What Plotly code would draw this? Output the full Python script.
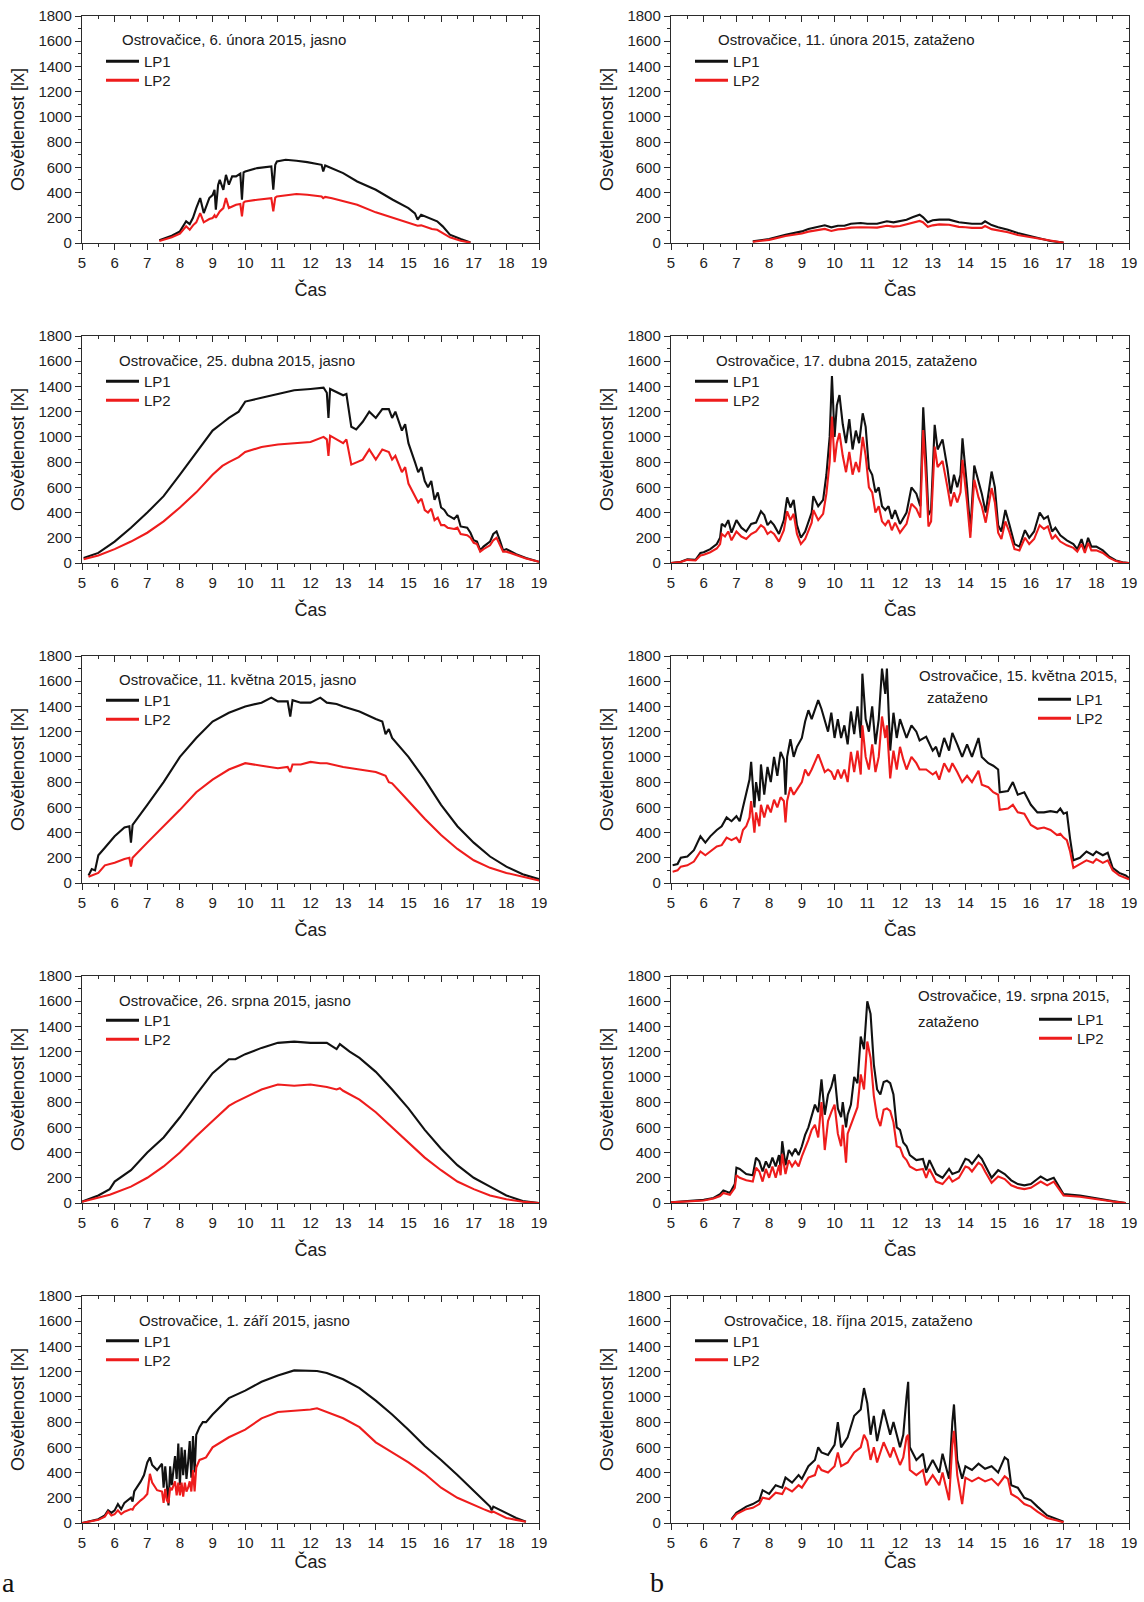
import plotly.graph_objects as go

# ---------------- DATA ----------------
# Panel a1: 6. února 2015, jasno
t_a1 = [7.37, 7.75, 8.00, 8.19, 8.30, 8.40, 8.50, 8.62, 8.73, 8.90,
        9.00, 9.06, 9.10, 9.17, 9.22, 9.33, 9.41, 9.50, 9.60, 9.72,
        9.85, 9.90, 9.95, 10.00, 10.37, 10.80, 10.86, 10.92, 10.97, 11.24,
        11.57, 11.90, 12.34, 12.39, 12.45, 12.66, 13.00, 13.43, 14.00, 14.52,
        15.00, 15.20, 15.28, 15.39, 15.72, 15.88, 16.05, 16.27, 16.60, 16.90]
lp1_a1 = [21, 58, 92, 172, 150, 200, 277, 356, 237, 356,
          380, 422, 264, 460, 501, 422, 540, 462, 528, 528,
          550, 343, 560, 567, 594, 607, 422, 620, 646, 660,
          652, 641, 620, 567, 615, 594, 554, 488, 422, 343,
          277, 235, 185, 224, 185, 172, 132, 66, 32, 5]
lp2_a1 = [15, 45, 74, 132, 105, 140, 164, 237, 164, 190,
          198, 220, 200, 237, 250, 277, 356, 277, 290, 303,
          310, 211, 320, 330, 343, 356, 250, 360, 369, 378,
          388, 383, 369, 355, 365, 355, 330, 303, 243, 198,
          158, 145, 137, 140, 111, 105, 79, 45, 18, 3]

# Panel b1: 11. února 2015, zataženo
t_b1 = [7.5, 8.0, 8.5, 9.0, 9.2, 9.5, 9.7, 9.9, 10.1, 10.3,
        10.5, 10.8, 11.0, 11.3, 11.6, 11.8, 12.0, 12.2, 12.4, 12.6,
        12.7, 12.85, 13.0, 13.2, 13.5, 13.8, 14.0, 14.2, 14.5, 14.6,
        14.8, 15.0, 15.3, 15.6, 16.0, 16.3, 16.6, 17.0]
lp1_b1 = [13, 32, 66, 92, 111, 132, 140, 124, 137, 137,
          153, 158, 153, 153, 172, 164, 172, 185, 206, 224,
          206, 164, 180, 185, 185, 164, 158, 153, 153, 172,
          142, 124, 105, 79, 53, 37, 16, 3]
lp2_b1 = [10, 25, 55, 75, 90, 105, 112, 95, 108, 112,
          122, 125, 122, 122, 137, 130, 135, 148, 165, 175,
          165, 128, 140, 148, 145, 128, 125, 120, 120, 135,
          110, 100, 85, 63, 45, 30, 14, 2]

# Panel a2: 25. dubna 2015, jasno
t_a2 = [5.05, 5.5, 6.0, 6.5, 7.0, 7.5, 8.0, 8.5, 9.0, 9.3,
        9.5, 9.8, 10.0, 10.5, 11.0, 11.5, 12.0, 12.4, 12.5, 12.55,
        12.6, 13.0, 13.1, 13.25, 13.4, 13.6, 13.8, 14.0, 14.2, 14.4,
        14.5, 14.6, 14.8, 14.9, 15.0, 15.1, 15.2, 15.3, 15.4, 15.5,
        15.6, 15.7, 15.8, 15.9, 16.0, 16.1, 16.2, 16.4, 16.5, 16.6,
        16.8, 16.9, 17.0, 17.1, 17.2, 17.3, 17.5, 17.6, 17.7, 17.8,
        17.9, 18.0, 18.3, 18.6, 19.0]
lp1_a2 = [40, 80, 170, 280, 400, 530, 700, 880, 1050, 1110,
          1150, 1200, 1280, 1310, 1340, 1370, 1380, 1390, 1350, 1150,
          1380, 1330, 1340, 1080, 1060, 1120, 1200, 1150, 1220, 1220,
          1150, 1200, 1050, 1100, 950, 880, 800, 720, 760, 650,
          600, 650, 500, 560, 440, 420, 380, 350, 380, 290,
          280, 240, 180, 170, 100, 130, 170, 230, 250, 180,
          100, 110, 70, 40, 10]
lp2_a2 = [30, 60, 110, 170, 240, 330, 440, 560, 700, 770,
          800, 840, 880, 920, 940, 950, 960, 1000, 980, 850,
          1010, 950, 980, 780, 800, 820, 900, 820, 900, 880,
          820, 850, 720, 760, 630, 580, 520, 480, 510, 420,
          400, 430, 340, 360, 300, 300, 280, 270, 280, 230,
          220, 200, 160, 150, 90, 110, 140, 180, 200, 150,
          90, 90, 60, 35, 10]

# Panel b2: 17. dubna 2015, zataženo
t_b2 = [5.0, 5.3, 5.5, 5.75, 5.9, 6.0, 6.2, 6.4, 6.5, 6.55,
        6.65, 6.75, 6.85, 7.0, 7.15, 7.3, 7.45, 7.6, 7.75, 7.85,
        7.95, 8.05, 8.15, 8.3, 8.45, 8.55, 8.65, 8.75, 8.85, 8.97,
        9.1, 9.3, 9.35, 9.5, 9.65, 9.75, 9.85, 9.92, 10.0, 10.07,
        10.15, 10.25, 10.35, 10.45, 10.55, 10.65, 10.75, 10.86, 10.95, 11.05,
        11.15, 11.25, 11.35, 11.45, 11.55, 11.65, 11.75, 11.85, 12.0, 12.2,
        12.35, 12.5, 12.62, 12.71, 12.8, 12.87, 12.95, 13.06, 13.15, 13.3,
        13.45, 13.55, 13.65, 13.75, 13.85, 13.91, 14.05, 14.15, 14.27, 14.4,
        14.5, 14.62, 14.8, 14.9, 15.0, 15.1, 15.22, 15.35, 15.5, 15.65,
        15.82, 15.95, 16.1, 16.27, 16.4, 16.52, 16.65, 16.75, 16.9, 17.1,
        17.3, 17.42, 17.55, 17.65, 17.75, 17.85, 18.0, 18.2, 18.4, 18.6,
        18.8, 19.0]
lp1_b2 = [0, 10, 30, 25, 80, 85, 110, 150, 200, 310,
          290, 340, 240, 340, 280, 250, 310, 320, 410, 380,
          300, 330, 300, 230, 340, 520, 440, 500, 300, 200,
          250, 400, 530, 450, 500, 700, 1000, 1483, 1000, 1250,
          1332, 1100, 950, 1140, 900, 1050, 950, 1187, 1080, 750,
          700, 560, 600, 450, 420, 450, 350, 420, 310, 400,
          600, 550, 450, 1235, 800, 380, 420, 1095, 900, 980,
          750, 550, 700, 600, 700, 989, 600, 250, 773, 650,
          550, 400, 725, 600, 300, 250, 420, 300, 150, 130,
          260, 200, 250, 400, 350, 370, 250, 280, 220, 180,
          150, 110, 190, 100, 200, 130, 130, 100, 50, 20,
          5, 0]
lp2_b2 = [0, 8, 25, 20, 60, 65, 85, 115, 150, 230,
          210, 250, 180, 250, 210, 190, 230, 250, 300, 280,
          230, 250, 230, 170, 260, 410, 340, 390, 230, 150,
          190, 320, 420, 340, 390, 550, 800, 1161, 800, 950,
          1030, 850, 720, 880, 700, 800, 720, 1000, 850, 600,
          560, 400, 450, 330, 300, 340, 260, 320, 240, 310,
          470, 430, 360, 1055, 650, 290, 330, 923, 760, 810,
          600, 450, 560, 480, 560, 818, 480, 200, 660, 520,
          450, 320, 594, 480, 240, 190, 330, 240, 110, 100,
          200, 150, 190, 300, 270, 290, 190, 220, 170, 140,
          120, 90, 150, 80, 160, 100, 100, 80, 40, 15,
          4, 0]

# Panel a3: 11. května 2015, jasno
t_a3 = [5.2, 5.3, 5.4, 5.5, 5.7, 6.0, 6.3, 6.45, 6.5, 6.55,
        7.0, 7.5, 8.0, 8.5, 9.0, 9.5, 10.0, 10.5, 10.8, 11.0,
        11.3, 11.38, 11.45, 11.7, 12.0, 12.3, 12.5, 12.8, 13.0, 13.5,
        14.0, 14.2, 14.3, 14.4, 14.5, 15.0, 15.5, 16.0, 16.5, 17.0,
        17.5, 18.0, 18.5, 19.0]
lp1_a3 = [60, 110, 100, 220, 280, 370, 440, 450, 320, 460,
          620, 800, 1000, 1150, 1280, 1350, 1400, 1430, 1470, 1440,
          1440, 1320, 1450, 1430, 1430, 1470, 1430, 1420, 1400, 1360,
          1300, 1280, 1180, 1220, 1150, 1000, 820, 620, 450, 320,
          210, 130, 70, 30]
lp2_a3 = [50, 60, 70, 80, 140, 160, 190, 200, 130, 200,
          320, 450, 580, 720, 820, 900, 950, 930, 920, 910,
          920, 880, 940, 940, 960, 950, 950, 930, 920, 900,
          880, 860, 850, 800, 790, 650, 510, 380, 270, 180,
          120, 80, 50, 20]

# Panel b3: 15. května 2015, zataženo
t_b3 = [5.05, 5.2, 5.3, 5.5, 5.7, 5.9, 6.05, 6.2, 6.4, 6.55,
        6.7, 6.85, 7.0, 7.1, 7.2, 7.3, 7.4, 7.45, 7.55, 7.6,
        7.7, 7.75, 7.85, 7.95, 8.05, 8.15, 8.25, 8.35, 8.45, 8.5,
        8.55, 8.65, 8.75, 8.85, 9.0, 9.1, 9.2, 9.3, 9.4, 9.5,
        9.6, 9.7, 9.8, 9.9, 10.0, 10.1, 10.2, 10.3, 10.4, 10.5,
        10.6, 10.7, 10.8, 10.85, 10.95, 11.05, 11.15, 11.25, 11.35, 11.45,
        11.55, 11.6, 11.7, 11.8, 11.9, 12.0, 12.1, 12.2, 12.35, 12.5,
        12.6, 12.8, 13.0, 13.1, 13.2, 13.35, 13.5, 13.6, 13.75, 13.9,
        14.05, 14.2, 14.4, 14.5, 14.7, 14.85, 15.0, 15.05, 15.3, 15.45,
        15.6, 15.8, 16.0, 16.2, 16.4, 16.6, 16.8, 16.9, 17.0, 17.1,
        17.2, 17.3, 17.5, 17.7, 17.9, 18.0, 18.2, 18.35, 18.5, 18.7,
        18.9, 19.0]
lp1_b3 = [140, 150, 200, 210, 260, 370, 320, 370, 420, 450,
          520, 490, 530, 490, 600, 700, 820, 960, 600, 800,
          650, 940, 700, 920, 800, 1000, 850, 1040, 980, 700,
          1000, 1140, 1000, 1080, 1150, 1280, 1370, 1300, 1380, 1450,
          1380, 1280, 1200, 1350, 1150, 1300, 1150, 1250, 1100, 1360,
          1180, 1400, 1150, 1660, 1300, 1200, 1400, 1100, 1300, 1700,
          1500, 1700, 1050, 1350, 1150, 1300, 1230, 1150, 1250, 1200,
          1130, 1160, 1050, 1080, 1000, 1150, 1050, 1190, 1100, 1000,
          1100, 1000, 1150, 1000, 950, 930, 900, 720, 730, 800,
          700, 720, 620, 560, 560, 570, 560, 590, 550, 560,
          350, 180, 200, 250, 220, 250, 220, 240, 120, 80,
          60, 40]
lp2_b3 = [90, 100, 130, 140, 170, 250, 220, 250, 290, 300,
          360, 340, 360, 320, 420, 450, 520, 650, 400, 560,
          450, 620, 520, 620, 560, 660, 600, 680, 650, 480,
          650, 760, 700, 740, 800, 900, 850, 900, 960, 1020,
          950, 880, 900, 880, 820, 900, 830, 900, 800, 1040,
          880, 1050, 860, 1250, 1000, 900, 1100, 880, 1000, 1320,
          1150, 1250, 830, 1050, 900, 1080, 980, 900, 1000, 950,
          900, 900, 860, 880, 820, 950, 880, 950, 880, 800,
          850, 800, 890, 780, 760, 720, 700, 580, 590, 620,
          560, 550, 460, 430, 440, 420, 380, 390, 360, 340,
          250, 120, 150, 180, 160, 190, 160, 180, 100, 60,
          40, 30]

# Panel a4: 26. srpna 2015, jasno
t_a4 = [5.0, 5.5, 5.85, 5.95, 6.0, 6.5, 7.0, 7.5, 8.0, 8.5,
        9.0, 9.5, 9.7, 10.0, 10.5, 11.0, 11.5, 12.0, 12.5, 12.8,
        12.9, 13.0, 13.2, 13.5, 14.0, 14.5, 15.0, 15.5, 16.0, 16.5,
        17.0, 17.5, 18.0, 18.5, 19.0]
lp1_a4 = [10, 60, 110, 150, 170, 260, 400, 520, 680, 860,
          1030, 1140, 1140, 1180, 1230, 1270, 1280, 1270, 1270, 1220,
          1260, 1240, 1200, 1150, 1040, 900, 750, 580, 430, 300,
          200, 130, 60, 15, 0]
lp2_a4 = [10, 40, 65, 75, 80, 130, 200, 290, 400, 530,
          650, 770, 800, 840, 900, 940, 930, 940, 920, 900,
          910, 890, 860, 820, 720, 600, 480, 360, 260, 170,
          110, 60, 30, 10, 0]

# Panel b4: 19. srpna 2015, zataženo
t_b4 = [5.0, 5.5, 6.0, 6.3, 6.5, 6.6, 6.8, 6.95, 7.0, 7.1,
        7.3, 7.5, 7.6, 7.7, 7.8, 7.9, 8.0, 8.1, 8.2, 8.3,
        8.35, 8.4, 8.5, 8.6, 8.7, 8.8, 8.9, 9.0, 9.1, 9.2,
        9.3, 9.4, 9.5, 9.6, 9.7, 9.8, 9.9, 10.0, 10.1, 10.2,
        10.25, 10.35, 10.4, 10.5, 10.6, 10.7, 10.8, 10.9, 11.0, 11.1,
        11.2, 11.3, 11.4, 11.5, 11.6, 11.7, 11.8, 11.9, 12.0, 12.1,
        12.2, 12.3, 12.5, 12.7, 12.8, 12.9, 13.1, 13.3, 13.5, 13.6,
        13.8, 14.0, 14.1, 14.2, 14.4, 14.5, 14.6, 14.8, 15.0, 15.2,
        15.4, 15.6, 15.8, 16.0, 16.3, 16.5, 16.7, 16.9, 17.0, 17.5,
        18.0, 18.5, 18.9]
lp1_b4 = [5, 15, 25, 40, 70, 100, 80, 150, 280, 270,
          230, 220, 360, 330, 250, 330, 280, 360, 290, 380,
          280, 490, 300, 420, 380, 430, 380, 450, 540, 600,
          700, 780, 720, 980, 700, 860, 920, 1020, 750, 680,
          800, 600, 700, 780, 1000, 950, 1320, 1220, 1600, 1500,
          1100, 900, 860, 960, 970, 950, 860, 600, 580, 480,
          450, 380, 340, 350, 260, 340, 230, 200, 270, 230,
          250, 350, 340, 310, 380, 350, 300, 200, 260, 230,
          180, 150, 140, 150, 210, 180, 200, 120, 70, 60,
          35, 15, 0]
lp2_b4 = [5, 12, 20, 35, 55, 80, 65, 120, 220, 200,
          180, 170, 280, 250, 170, 270, 200, 290, 200, 300,
          220, 390, 230, 340, 290, 330, 290, 370, 430, 500,
          580, 620, 520, 800, 420, 650, 720, 780, 550, 450,
          620, 320, 550, 620, 700, 760, 1020, 900, 1280, 1150,
          850, 680, 610, 740, 750, 730, 640, 450, 440, 370,
          340, 290, 260, 270, 200, 270, 170, 150, 210, 170,
          200, 290, 280, 250, 320, 300, 250, 160, 210, 190,
          140, 120, 110, 120, 170, 140, 170, 100, 60, 50,
          30, 12, 0]

# Panel a5: 1. září 2015, jasno
t_a5 = [5.0, 5.3, 5.5, 5.7, 5.8, 5.9, 6.0, 6.1, 6.2, 6.3,
        6.5, 6.55, 6.6, 6.8, 6.9, 7.0, 7.08, 7.15, 7.3, 7.45,
        7.5, 7.55, 7.6, 7.65, 7.7, 7.75, 7.85, 7.9, 7.95, 8.0,
        8.05, 8.1, 8.15, 8.2, 8.25, 8.3, 8.35, 8.4, 8.45, 8.5,
        8.6, 8.7, 8.8, 9.0, 9.5, 10.0, 10.5, 11.0, 11.5, 12.0,
        12.2, 12.5, 13.0, 13.5, 14.0, 14.5, 15.0, 15.5, 16.0, 16.5,
        17.0, 17.3, 17.5, 17.55, 17.6, 18.0, 18.3, 18.6]
lp1_a5 = [0, 15, 30, 60, 100, 80, 100, 150, 110, 160,
          200, 170, 250, 330, 380, 480, 520, 460, 420, 470,
          280, 450, 250, 140, 450, 300, 530, 350, 630, 300,
          600, 380, 580, 350, 480, 650, 360, 690, 400, 700,
          760, 800, 800, 860, 990, 1050, 1120, 1170, 1210, 1210,
          1205, 1190, 1140, 1070, 970, 860, 740, 610, 500, 380,
          260, 180, 130, 100, 130, 80, 40, 10]
lp2_a5 = [0, 12, 25, 50, 90, 60, 70, 100, 70, 90,
          110, 105, 130, 180, 200, 230, 390, 320, 260, 250,
          160, 270, 180, 160, 280, 260, 330, 220, 320, 220,
          320, 210, 320, 250, 280, 330, 250, 420, 250, 440,
          500, 510, 520, 600, 680, 740, 830, 880, 890, 900,
          910, 880, 830, 760, 640, 560, 480, 390, 280, 200,
          140, 110, 90, 85, 90, 40, 25, 10]

# Panel b5: 18. října 2015, zataženo
t_b5 = [6.85, 7.0, 7.3, 7.5, 7.7, 7.8, 8.0, 8.2, 8.4, 8.5,
        8.7, 8.9, 9.0, 9.2, 9.4, 9.5, 9.6, 9.8, 10.0, 10.1,
        10.2, 10.4, 10.6, 10.8, 10.9, 11.0, 11.1, 11.2, 11.3, 11.5,
        11.7, 11.8, 12.0, 12.1, 12.2, 12.25, 12.3, 12.5, 12.7, 12.8,
        13.0, 13.2, 13.3, 13.5, 13.6, 13.65, 13.75, 13.9, 14.0, 14.2,
        14.4, 14.6, 14.8, 15.0, 15.2, 15.3, 15.4, 15.6, 15.8, 16.0,
        16.2, 16.5, 16.8, 17.0]
lp1_b5 = [30, 80, 130, 150, 180, 260, 230, 300, 280, 360,
          320, 380, 350, 450, 500, 600, 560, 540, 620, 800,
          600, 680, 850, 900, 1070, 950, 700, 850, 650, 900,
          700, 800, 600, 700, 1000, 1120, 600, 500, 550, 400,
          500, 400, 550, 350, 800, 940, 500, 350, 450, 420,
          470, 430, 450, 400, 520, 500, 300, 280, 200, 180,
          130, 60, 30, 10]
lp2_b5 = [25, 70, 110, 120, 150, 200, 190, 240, 230, 280,
          250, 300, 280, 360, 380, 460, 420, 400, 450, 560,
          450, 480, 560, 600, 700, 650, 500, 600, 480, 640,
          520, 600, 460, 520, 680, 700, 420, 380, 420, 300,
          380, 300, 400, 180, 620, 730, 380, 150, 360, 330,
          360, 330, 350, 300, 370, 350, 230, 200, 150, 130,
          90, 40, 20, 5]

titles = [
    ["Ostrovačice, 6. února 2015, jasno"],
    ["Ostrovačice, 11. února 2015, zataženo"],
    ["Ostrovačice, 25. dubna 2015, jasno"],
    ["Ostrovačice, 17. dubna 2015, zataženo"],
    ["Ostrovačice, 11. května 2015, jasno"],
    ["Ostrovačice, 15. května 2015,", "zataženo"],
    ["Ostrovačice, 26. srpna 2015, jasno"],
    ["Ostrovačice, 19. srpna 2015,", "zataženo"],
    ["Ostrovačice, 1. září 2015, jasno"],
    ["Ostrovačice, 18. října 2015, zataženo"],
]
series_names = ["LP1", "LP2"]
x_ticks = list(range(5, 20))
y_ticks = list(range(0, 1801, 200))
x_title = "Čas"
y_title = "Osvětlenost [lx]"
panel_letters = ["a", "b"]

panels = [
    (t_a1, lp1_a1, lp2_a1), (t_b1, lp1_b1, lp2_b1),
    (t_a2, lp1_a2, lp2_a2), (t_b2, lp1_b2, lp2_b2),
    (t_a3, lp1_a3, lp2_a3), (t_b3, lp1_b3, lp2_b3),
    (t_a4, lp1_a4, lp2_a4), (t_b4, lp1_b4, lp2_b4),
    (t_a5, lp1_a5, lp2_a5), (t_b5, lp1_b5, lp2_b5),
]

# ---------------- LAYOUT (pixel geometry) ----------------
W, H = 1144, 1602
def fx(p):
    return p / W
def fy(p):
    return 1 - p / H

col_x = [(82, 539), (671, 1129)]
row_top = [16 + 320 * i for i in range(5)]
row_bot = [243 + 320 * i for i in range(5)]

# title annotation positions (px) per panel: list of (x, y) per line
title_pos = [
    [(120, 39.5)], [(716, 39.5)],
    [(117, 360)], [(714, 360.5)],
    [(117, 680)], [(917, 676), (925, 698)],
    [(117, 1000)], [(916, 996), (916, 1021)],
    [(137, 1320.5)], [(722, 1320)],
]
# legend anchor x (px) and the y (px) of the LP1 and LP2 rows
legend_pos = [
    (101, 61.5, 80.5), (690, 61.5, 80.5),
    (101, 381.5, 400.5), (690, 381.5, 400.5),
    (101, 700.5, 719.5), (1033, 699.5, 718.5),
    (101, 1020.5, 1039.5), (1034, 1019.5, 1038.5),
    (101, 1341, 1360), (690, 1341, 1360),
]

FONT = "Liberation Sans, Arial, sans-serif"
AX = "#2b2b2b"
COLORS = ["#111111", "#ee1c1c"]

fig = go.Figure()
layout = dict(
    width=W, height=H,
    margin=dict(l=0, r=0, t=0, b=0, autoexpand=False),
    paper_bgcolor="white", plot_bgcolor="white",
    font=dict(family=FONT, color="#1a1a1a"),
    showlegend=True,
    annotations=[],
)

for k in range(10):
    idx = k + 1
    r, c = divmod(k, 2)
    xs = "" if idx == 1 else str(idx)
    t, lp1, lp2 = panels[k]
    lx, ly1, ly2 = legend_pos[k]
    for j, (name, vals, col, ly) in enumerate(
            zip(series_names, (lp1, lp2), COLORS, (ly1, ly2))):
        n = min(len(t), len(vals))
        fig.add_trace(go.Scatter(
            x=t[:n], y=vals[:n], mode="lines", name=name,
            line=dict(color=col, width=2.1),
            xaxis=f"x{xs}", yaxis=f"y{xs}", showlegend=False,
            hoverinfo="skip"))
        lid = 2 * k + j + 1
        leg = "legend" if lid == 1 else f"legend{lid}"
        # legend entry (thicker sample line, as in the reference)
        fig.add_trace(go.Scatter(
            x=[None], y=[None], mode="lines", name=name,
            line=dict(color=col, width=3.2),
            xaxis=f"x{xs}", yaxis=f"y{xs}", legend=leg, showlegend=True,
            hoverinfo="skip"))
        layout[leg] = dict(x=fx(lx), y=fy(ly), xref="paper", yref="paper",
                           xanchor="left", yanchor="middle",
                           bgcolor="rgba(0,0,0,0)", borderwidth=0,
                           font=dict(family=FONT, size=15, color="#1a1a1a"),
                           itemwidth=33, tracegroupgap=0)
    # dummy trace for the mirrored (inward tick) frame axes
    ox, oy = f"x{idx + 10}", f"y{idx + 10}"
    fig.add_trace(go.Scatter(x=[None], y=[None], xaxis=ox, yaxis=oy,
                             showlegend=False, hoverinfo="skip"))

    xdom = [fx(col_x[c][0]), fx(col_x[c][1])]
    ydom = [fy(row_bot[r]), fy(row_top[r])]
    common = dict(showline=True, linecolor=AX, linewidth=1.4, showgrid=False,
                  zeroline=False, tickcolor=AX, tickwidth=1.3)
    layout[f"xaxis{xs}"] = dict(
        common, domain=xdom, anchor=f"y{xs}", range=[5, 19],
        tickmode="array", tickvals=x_ticks, ticktext=[str(v) for v in x_ticks],
        ticks="outside", ticklen=6,
        minor=dict(dtick=0.5, tick0=5, ticks="outside", ticklen=3,
                   tickcolor=AX, tickwidth=1.2),
        tickfont=dict(family=FONT, size=15, color="#222"),
        title=dict(text=x_title, font=dict(family=FONT, size=18, color="#1a1a1a"),
                   standoff=13 if r < 4 else 5))
    layout[f"yaxis{xs}"] = dict(
        common, domain=ydom, anchor=f"x{xs}", range=[0, 1800],
        tickmode="array", tickvals=y_ticks, ticktext=[str(v) for v in y_ticks],
        ticks="outside", ticklen=6,
        minor=dict(dtick=100, tick0=0, ticks="outside", ticklen=3,
                   tickcolor=AX, tickwidth=1.2),
        tickfont=dict(family=FONT, size=15, color="#222"),
        title=dict(text=y_title, font=dict(family=FONT, size=18, color="#1a1a1a"),
                   standoff=9))
    layout[f"xaxis{idx + 10}"] = dict(
        common, overlaying=f"x{xs}", anchor=f"y{xs}", side="top",
        range=[5, 19], tickmode="linear", tick0=5, dtick=1,
        ticks="inside", ticklen=6, showticklabels=False,
        minor=dict(dtick=0.5, tick0=5, ticks="inside", ticklen=3,
                   tickcolor=AX, tickwidth=1.2))
    layout[f"yaxis{idx + 10}"] = dict(
        common, overlaying=f"y{xs}", anchor=f"x{xs}", side="right",
        range=[0, 1800], tickmode="linear", tick0=0, dtick=200,
        ticks="inside", ticklen=6, showticklabels=False,
        minor=dict(dtick=100, tick0=0, ticks="inside", ticklen=3,
                   tickcolor=AX, tickwidth=1.2))

    for line, (px, py) in zip(titles[k], title_pos[k]):
        layout["annotations"].append(dict(
            text=line, x=fx(px), y=fy(py), xref="paper", yref="paper",
            xanchor="left", yanchor="middle", showarrow=False,
            font=dict(family=FONT, size=15, color="#1a1a1a")))

for letter, px in zip(panel_letters, (8, 657)):
    layout["annotations"].append(dict(
        text=letter, x=fx(px), y=fy(1582), xref="paper", yref="paper",
        xanchor="center", yanchor="middle", showarrow=False,
        font=dict(family="Liberation Serif, Times New Roman, serif", size=28,
                  color="#111")))

fig.update_layout(**layout)
# remove the browser's default 8px page margin so the figure sits at (0, 0)
fig.write_html(
    "out.html",
    config={"displayModeBar": False},
    post_script="document.body.style.margin='0';"
                "document.documentElement.style.overflow='hidden';")
